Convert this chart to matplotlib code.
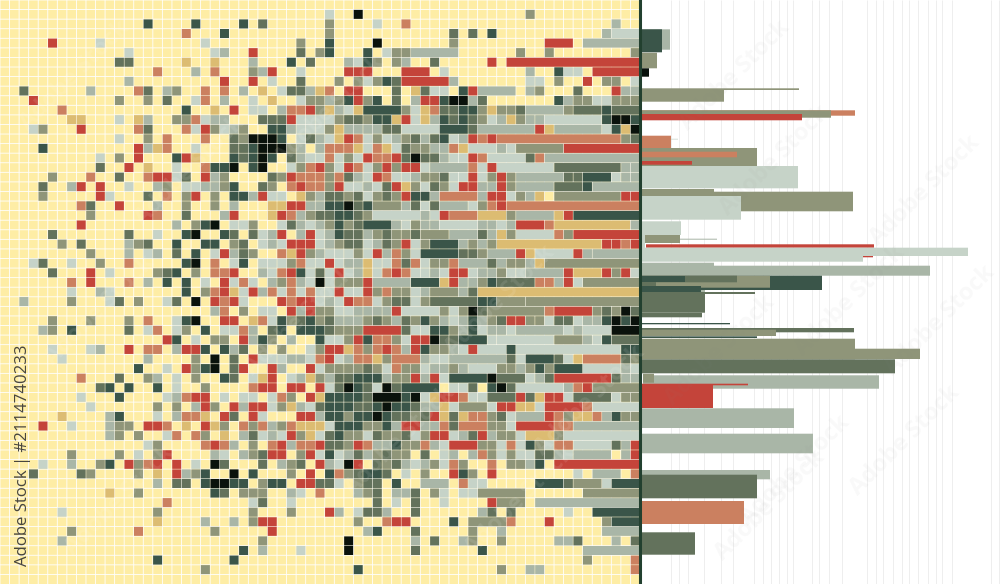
# recreate the pixel mosaic + side bars chart
import re
import matplotlib
matplotlib.use("Agg")
import matplotlib.pyplot as plt

# =========================================================
# data
# =========================================================
palette = {"K": "#0a120c", "D": "#3a5549", "G": "#63725c", "O": "#8f9579",
           "S": "#a9b6a7", "L": "#c6d3c8", "R": "#c4443a", "T": "#cb8060",
           "Y": "#dcbc72"}

# one string per row, tokens are "<col><colour>" or "<from>-<to><colour>"
cell_rows = [
    "",
    "34L 37K 55O",
    "15D 20D 25D 27G 34O 39L 42T 64S",
    "19T 23D 34O 47G 49G 51D 63S 64-66L",
    "5R 10L 21L 31O 34D 39K 47O 57-59R 61-66S",
    "13L 22L 23S 26R 31G 33O 34D 38D 40L 41O 42O 43-47S 54O 57O 66O",
    "12G 13G 19Y 22Y 26S 30D 32G 36S 37L 38D 39O 41O 42S 45G 51R 53-66R",
    "16T 20S 22T 26O 27S 28R 31L 36-38R 42-44R 46L 55S 58D 59-60L 62-66R",
    "13S 23R 26R 28L 31G 35O 37O 38L 39O 40D 41G 42-46R 47S 55-56L 58O 61R 63-64O 66L",
    "2G 9S 14T 15G 17S 18O 21T 23T 25S 27Y 29L 30G 31G 32S 33Y 34T 36-37R 41G 43Y 44G 45-46L 48D 49R 50-53S 55S 56O 60G 64R 65-66S",
    "3R 12O 15O 17G 20L 21T 23S 26L 28Y 31L 32O 33O 34S 35O 36D 37R 38O 39D 41G 43S 44R 45R 46D 47K 48K 49S 50G 58D 59S 60-61O 62-63L 64O 65-66O",
    "6T 19D 22Y 24R 26L 27L 29S 30T 31T 32R 33O 34Y 35S 36L 37Y 38-41D 42O 43L 44Y 45T 46G 47G 48D 49D 50O 51Y 52-53O 54G 55-58S 59O 60-62G 63D 64-66G",
    "7Y 8Y 12L 14Y 15S 18O 19O 20T 21L 22S 23S 27G 28G 29G 30R 31L 32L 33L 34L 35O 36G 37G 38O 39-40D 41Y 42R 43L 44Y 45S 46D 47G 48D 49G 50O 51L 52S 53Y 54O 55S 56S 57-62L 63D 64-65K 66D",
    "3L 4O 8R 14T 15G 19T 20L 21R 22O 23L 24S 25O 28D 29D 30S 31L 32L 33L 34O 35Y 36-39S 40G 41G 42-45L 46-48D 49G 50-55S 56R 57Y 58-62S 63L 64D 65Y 66K",
    "12L 15O 17T 21T 24G 25O 26-28K 29D 31L 32G 33S 34L 35Y 36R 37T 38L 39O 40L 41S 42O 43G 44S 45G 46D 47L 48S 49R 50T 51R 52-64T 65O 66G",
    "4D 14R 15S 16Y 17T 20L 24G 25G 26D 27-29K 30O 31S 33S 34-36T 37Y 38L 39T 40Y 41L 42G 43O 44O 45S 46S 47T 48Y 49-51L 52S 53L 54-58O 59-66R",
    "10L 12O 14R 18D 19R 20Y 24D 25G 26D 27K 28D 30G 31S 32L 33L 34T 35L 36O 37L 38R 39T 40T 41R 42G 43K 44-45G 46S 47-48L 49R 50T 51-54L 55G 56T 57-66S",
    "10G 13R 15Y 18L 21T 22D 23D 24K 26D 27K 30L 31O 32T 33R 34O 35L 36R 37T 38L 39O 40R 41O 42R 43R 44L 45-48S 49T 50L 51R 52-57L 58-64G 65-66S",
    "5O 9T 12G 15T 16R 17R 18L 19G 21R 22S 23O 28G 29O 30R 31-33T 34O 35T 36G 37S 38L 39R 40T 41L 42L 43S 44O 45O 46G 47L 48L 49R 50L 51O 52R 53O 54-58S 59-60G 61-63D 64L 65-66S",
    "4G 7S 8R 10R 13L 16S 17O 19L 20L 21S 22S 23O 24D 27G 28O 30T 31R 32T 33T 34O 35R 36L 37L 38S 39L 40G 41R 42Y 43O 44L 45G 46O 47L 48R 49R 50-51S 52R 53O 54-57S 58-60G 61D 62-66S",
    "4O 10R 11L 15G 17T 19O 20R 22O 24D 25D 26S 27R 28L 29L 31Y 32O 33S 34-35G 36O 37G 38L 39O 40G 41O 42R 43-44D 45S 46-49T 50S 51-52R 53L 54O 55S 56Y 58-64O 65R 66R",
    "8T 9G 12R 16S 19O 22O 24S 28Y 29Y 30R 31R 32S 33S 34-35D 36K 37G 38D 39-41O 42S 43G 44L 45G 46-48S 49L 50O 51T 52R 53-66T",
    "9O 15R 16T 19G 23S 24R 28Y 29R 30T 31S 32O 33G 34G 35D 36D 37G 38O 39-43L 44S 45L 46R 47-49T 50-52Y 53O 54-57S 58Y 59R 60-66D",
    "8R 18S 20O 21D 22K 24L 25L 26O 29L 30G 31S 32L 33S 34O 35D 36O 37G 38-40D 41S 42L 43O 44S 45S 46-49L 50S 51S 52L 53S 54-56R 57T 58-65Y 66S",
    "5G 13G 16L 19D 20K 23D 24G 26G 27L 28S 29R 31S 32R 33L 34S 35D 36G 37G 38S 39O 40G 41O 42O 43G 44-46O 47-49S 50G 51S 52Y 53O 54-57L 58T 59O 60-66R",
    "6O 8G 13S 14O 15G 18D 21D 22D 24O 25G 27L 28S 29L 30-32R 33L 34S 35O 36-37G 38L 39S 40G 41O 42R 43L 44O 45-47D 48S 49O 50S 51O 52-62Y 63R 64R 65T 66R",
    "9O 13S 15L 16S 18G 20D 22L 23R 24S 25G 26O 29T 30Y 31R 32O 33S 34L 35L 36L 37O 38L 39R 40S 41T 42O 43L 44-47D 48G 49G 50O 51-53S 54R 55Y 56-59L 60R 61S 62-66S",
    "3L 4G 7L 10O 13T 19D 20K 22T 24L 25D 27-29L 30O 31T 32L 33L 34R 35L 36S 37S 38Y 39L 40L 41T 42G 43T 44L 45-46O 47T 48-50S 51G 52S 53O 54O 55S 56Y 57-66O",
    "5G 9R 11L 16O 17G 18D 20O 22T 23T 24R 27S 28L 29T 30R 31D 32L 33G 34L 35R 36L 37S 38Y 39L 40T 41R 42T 43-44L 45S 46L 47-48R 49L 50-51S 52O 53-54L 55-58S 59R 60-62Y 63R 64O 65R 66L",
    "7T 9R 13T 15S 17D 19D 21L 23R 24L 25T 26L 28S 29O 30T 31S 32L 33K 34L 35-37O 38R 39-42S 43-45D 46Y 47R 48-49S 50O 51D 52-55G 56T 57T 58S 59R 60L 61-66O",
    "7L 10S 11L 19D 21O 22T 23R 24Y 25L 26R 27S 28T 29L 30T 31L 32T 33L 34L 35R 36-37L 38R 39O 40T 41-42O 43L 44S 45-47O 48S 49G 50-66Y",
    "2S 7O 11L 12G 14O 17L 18G 20K 22R 23T 24R 25L 29R 30T 31R 32R 33L 34S 35L 36R 37T 38T 39L 40O 41-42G 43L 44O 45-49G 50D 51D 52-54O 55-66O",
    "22S 23T 25O 27L 28L 30R 31S 32R 33O 34O 35-36L 37-40S 41R 42-45L 46O 47L 48O 49K 50G 51-56O 57T 58-61R 62O 63G 64O 65K 66G",
    "5O 9O 13O 15T 18L 19D 20K 23R 24R 26Y 27T 28L 29D 30O 31G 32D 33O 34G 35-37S 38O 39G 40O 41S 42G 43O 44D 45O 46S 47L 48S 49D 50S 51O 52G 53R 54R 55-56O 57L 58-59G 60L 61S 62S 63D 64K 65D 66K",
    "4S 5O 7D 13G 15L 16T 18L 19O 21D 23L 24L 25T 26S 28G 29D 31D 32D 33D 34G 35-37O 38-41R 42G 43L 44L 45-46D 47O 48S 49D 50L 51S 52S 53L 54-58S 59L 60S 61-63L 64-66K",
    "17R 18D 20L 22O 23O 25R 26S 27D 28O 30S 33D 34L 35L 36O 37R 38D 39T 40T 41O 42L 43-44R 45K 46-47G 48-50D 51L 52-57L 58-60O 61S 62L 63D 64-66G",
    "5L 9L 10S 13R 15T 16T 18S 19R 20R 21D 23D 24S 25G 27O 29O 32L 33O 34R 35R 36Y 37T 38O 39T 40R 41T 42S 43R 44D 45-46O 47S 48L 49R 50-52L 53D 54-64L 65-66D",
    "6L 15S 20O 22K 24G 26R 27-29L 30-31S 32L 33T 34R 35L 36S 37T 38T 39Y 40O 41-43T 44S 45-46L 47-52S 53G 54L 55-57D 58G 59L 60Y 61-64T 65G 66O",
    "14D 17L 19R 20O 21D 22K 24G 25R 28R 29S 32R 33L 34-37O 38G 39O 40L 41T 42-43O 44L 45-46S 47O 48S 49-51L 52-53O 54S 55O 56D 57O 58-60D 61-64L 65S 66L",
    "8T 12G 15O 16S 18L 20O 23D 24G 26L 27Y 28R 30L 31S 32Y 33O 34S 35G 36G 37-39D 40S 41-42O 43R 44S 45R 46L 47-50D 51K 52-54G 55L 56S 57G 58-63R 64G 65-66S",
    "10G 11D 13D 16D 18L 21O 26T 27R 28R 30R 31R 33R 34L 35G 36K 37D 38G 39L 40K 41G 42-45D 47L 48L 49G 51D 52K 53G 54-58L 59S 60T 61R 62-66O",
    "8L 12D 17L 18S 19T 20R 21R 23L 25L 26L 28L 29T 30O 32R 33Y 34-37D 38G 39-41K 42D 43K 44L 45Y 46-47R 48T 49-50L 51-53G 54R 55G 56Y 57-58R 59L 60-63G 64L 65-66O",
    "9L 16O 18O 20S 21R 22O 24R 25S 26R 27R 28L 29O 30Y 31S 32L 33G 34-36D 37G 38G 39D 40K 41D 42D 43G 44-45S 46Y 47L 48-50O 51L 52R 53R 54-55Y 56L 57-60R 61T 62-66L",
    "6Y 11S 12D 16L 18S 19T 20T 21Y 23R 24G 26R 27L 31R 32R 33S 34D 35D 36O 37D 38D 39K 40D 41G 42G 43O 44G 45R 46Y 47G 48Y 49T 50T 51O 52G 53L 54-56S 57R 58T 59O 60-61Y 62T 63S 64D 65-66O",
    "4R 7L 11S 12O 13O 15R 16R 17T 19Y 21R 22Y 23O 25T 26O 27T 28S 29O 30T 31-33Y 34L 35D 36-37D 38O 39O 40D 41S 42R 43R 44S 45S 46T 47G 48-50T 51-52O 53L 54-57R 58T 59T 60-66S",
    "11S 12O 14O 17L 18T 20T 21O 23Y 25S 26G 27L 28S 29L 30R 31O 32Y 33L 34G 35D 36O 37O 38L 39G 40-41O 42G 43L 44O 45-46R 47L 48S 49G 50R 51S 52-53O 54L 55-57Y 58O 59-66L",
    "15L 16O 21T 22R 23T 24S 26O 28T 29R 30S 31T 32T 33R 34G 35G 36O 37R 38T 39S 40S 41D 42O 43O 44T 45S 46L 47-49R 50-51O 52L 53T 54L 55D 56O 57L 58T 59T 60-63L 64G 65S 66R",
    "7O 12O 14L 16O 17R 22S 23L 25S 26O 27G 28R 29R 31O 32R 33L 34D 35L 36S 37G 38S 39O 40G 41O 42O 44G 46L 47S 49S 50T 51O 52L 53O 54-55L 56G 57G 58S 59L 60-63S 65S 66R",
    "4L 7S 10O 11D 13R 14O 15T 16R 18R 20L 22K 23G 27G 29S 30O 31G 33R 34S 35L 36K 37R 39G 40O 41G 42S 43L 44S 45O 46L 47T 48O 51T 53-54O 55S 56D 58-66R",
    "3G 8G 9O 14O 16Y 18R 19S 20O 21D 24K 26D 30O 32R 34D 35T 36O 37G 38D 39D 40G 42L 44O 47R 48D 49O 51R 60L 62-64S 66T",
    "16S 18G 19G 21D 22K 23K 24D 25D 27O 28D 29D 31R 32R 33G 34G 35L 37O 38G 39G 41D 44-46S 48T 49L 50L 56-58D 59G 60-62O 63L 64-66D",
    "11Y 14O 22D 23G 25O 26O 27O 30S 31L 33T 37S 38O 39G 41-42S 43G 45O 46L 48L 49L 50-54O 61-66O",
    "17T 26L 27G 30L 39G 41L 43G 46L 51R 52-54O 56-66S",
    "6L 16O 26O 30O 34R 35S 37L 38G 39G 40S 43G 50S 51G 53G 59L 62-66D",
    "16Y 21S 24S 26O 27R 28R 37O 40T 41-42R 47D 49-52O 53T 57R 63O 64-66D",
    "7O 14T 22O 28R 38S 39D 43G 49O 52S 63-66S",
    "6S 27O 36K 43S 45G 48S 49O 52O 58-59S 60G 64S 66G",
    "25D 27S 31L 36K 43G 50D 61-66S",
    "16D 24D 61O 66T",
    "21O 37D 52O 55-56S 66T",
    "",
]

# side bars, drawn back to front
bar_start = [641, 641, 641, 641, 641, 641, 641, 641, 641, 641, 641, 641, 641, 641,
             641, 641, 641, 641, 641, 641, 645, 641, 641, 646, 641, 641, 641, 641,
             641, 641, 641, 641, 656, 641, 641, 641, 641, 641, 641, 641, 641, 641,
             641, 641, 641, 643, 643, 641, 641, 641, 641, 641, 641, 641, 641]
bar_end = [670, 662, 657, 649, 799, 724, 855, 831, 802, 678, 671, 757, 737, 692,
           798, 714, 853, 741, 681, 717, 680, 645, 873, 874, 968, 863, 930, 714,
           822, 770, 737, 685, 737, 705, 701, 755, 705, 702, 730, 854, 776,
           757, 920, 855, 895, 879, 654, 748, 713, 794, 813, 770, 757, 744, 695]
bar_top = [29.3, 29.3, 52.7, 68.3, 88.3, 90, 110.3, 110.3, 114, 138.8, 135.7, 148,
           151.7, 161, 166, 189, 191.7, 196, 221.3, 238.7, 235, 235, 256, 244.3,
           247.7, 248.3, 265.7, 262.7, 275.7, 275.7, 275.7, 276, 282.3, 290, 286,
           292, 292, 312.7, 323, 328, 329.7, 336.3, 348.7, 338.7, 359.3, 375.3,
           373.7, 383.7, 384.7, 408.3, 433.7, 470, 474.7, 501, 532.3]
bar_bottom = [49.7, 52.3, 68.3, 76.7, 90, 101.7, 115.7, 117.7, 120.3, 139.5, 148,
              166, 157.3, 164.7, 188.3, 196, 211.3, 219.7, 235, 239.7, 243, 256,
              257.3, 247.7, 256, 261.7, 275.7, 275, 290, 287.7, 286, 282, 286, 292,
              292, 294, 312.7, 317.3, 324.3, 332.3, 336, 338, 359, 359.3, 373.3,
              388.7, 382.7, 385.3, 408, 428, 453.3, 479.3, 498.3, 524, 554.7]
bar_colour = ["S", "D", "O", "K", "O", "O", "T", "O", "R", "L", "T", "O", "T", "R",
              "L", "O", "O", "L", "L", "S", "O", "L", "R", "R", "L", "L", "S", "S",
              "D", "O", "G", "D", "O", "S", "D", "G", "G", "G", "D", "G", "O", "D",
              "O", "O", "G", "S", "O", "R", "R", "S", "S", "S", "G", "T", "G"]

grid_x = [671, 679.3, 688.3, 704.3, 720.7, 733.3, 754.3, 763.3, 771, 779, 786.7,
          793.3, 811.7, 819.3, 829, 841.7, 866.7, 875.7, 883.3, 893.3, 901.7, 909,
          918.3, 927.7, 935.7, 942.3, 951.7, 991, 999.3]

# =========================================================
# plotting
# =========================================================
n_cols, n_rows = 67, 61
split_x, fig_h = 640, 584
cell_w = split_x / n_cols
cell_h = fig_h / n_rows
gap = 0.55

fig = plt.figure(figsize=(10, 5.84), dpi=100)
ax = fig.add_axes([0, 0, 1, 1])
ax.set_xlim(0, 1000)
ax.set_ylim(fig_h, 0)
ax.axis("off")

# right side grid
ax.vlines(grid_x, 0, fig_h, color="#eeeeee", linewidth=0.7, zorder=1)

# mosaic background
ax.axvspan(0, split_x, color="#feeda5", linewidth=0, zorder=1)
for line in [ax.vlines([i * cell_w for i in range(n_cols)], 0, fig_h, color="white",
                       linewidth=0.6, zorder=2),
             ax.hlines([i * cell_h for i in range(n_rows)], 0, split_x, color="white",
                       linewidth=0.6, zorder=2)]:
    line.set_snap(False)

# mosaic cells, longer runs on the right are merged into one block
for row, tokens in enumerate(cell_rows):
    for token in tokens.split():
        m = re.fullmatch(r"(\d+)(?:-(\d+))?([A-Z])", token)
        first = int(m.group(1))
        last = int(m.group(2)) if m.group(2) else first
        cols = [(first, last)]
        if last - first < 2 or first < 38:
            cols = [(c, c) for c in range(first, last + 1)]
        for a, b in cols:
            bars = ax.barh((row + 0.5) * cell_h, (b - a + 1) * cell_w - gap,
                           height=cell_h - gap, left=a * cell_w + gap / 2,
                           color=palette[m.group(3)], linewidth=0, zorder=3)
            bars[0].set_snap(False)

# bars
bars = ax.barh([(t + b) / 2 for t, b in zip(bar_top, bar_bottom)],
               [e - s for s, e in zip(bar_start, bar_end)],
               height=[b - t for t, b in zip(bar_top, bar_bottom)],
               left=bar_start, color=[palette[c] for c in bar_colour],
               linewidth=0, zorder=3)
for bar in bars:
    bar.set_snap(False)

ax.axvline(split_x - 0.5, color="#22402f", linewidth=2.2, zorder=4)

# stock id on the left edge
ax.text(23, 566, "Adobe Stock | #2114740233", rotation=90, ha="center", va="bottom",
        family="Open Sans", fontsize=12.1, fontweight="medium", color="#333333",
        alpha=0.9, zorder=6)

# faint watermarks
for x, y in [(75, 75), (190, 170), (100, 310), (330, 110), (300, 320), (120, 500),
             (500, 300), (520, 500), (400, 440), (590, 400)]:
    ax.text(x, y, "Adobe Stock", rotation=45, ha="center", va="center", family="Open Sans",
            fontsize=17, fontweight="bold", color="white", alpha=0.1, zorder=5)
for x, y in [(735, 75), (775, 160), (925, 190), (850, 300), (720, 350), (795, 470),
             (905, 440), (770, 505), (940, 320)]:
    ax.text(x, y, "Adobe Stock", rotation=45, ha="center", va="center", family="Open Sans",
            fontsize=17, fontweight="bold", color="#888888", alpha=0.05, zorder=5)

fig.savefig("out.png", dpi=100)
